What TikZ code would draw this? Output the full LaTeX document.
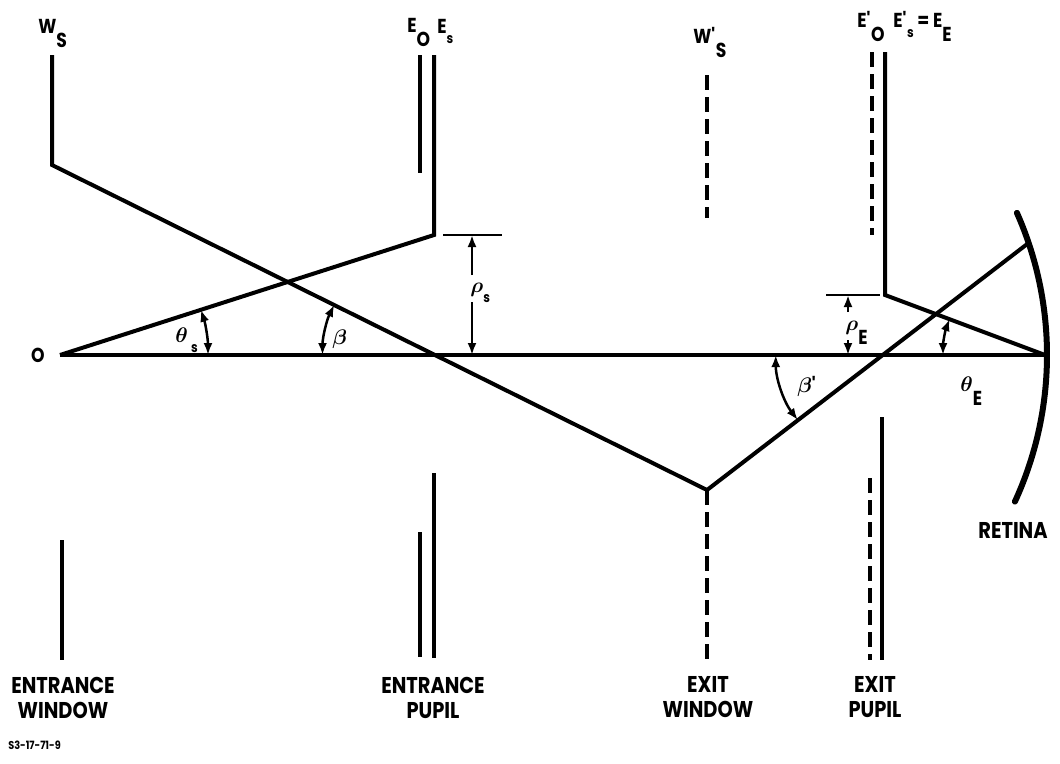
\documentclass[tikz,border=0pt]{standalone}
\usepackage{amsmath,amssymb}
\usepackage{fontspec}
\setmainfont{Poppins}[FakeStretch=0.85]
\usetikzlibrary{arrows.meta}

\newcommand{\lowsub}[2]{#1\raisebox{-0.72em}{#2}}
\newcommand{\smallsub}[2]{#1\raisebox{-0.5em}{\fontsize{8}{8}\selectfont #2}}
\newcommand{\tick}{\textquotesingle}

\tikzset{
  stop/.style={line width=0.8mm},
  virt/.style={line width=0.8mm, dash pattern=on 3mm off 1.4mm},
  dim/.style={line width=0.5mm},
  tip/.style={dim, -{Latex[length=2.4mm,width=1.8mm]}},
  both/.style={dim, {Latex[length=2.4mm,width=1.8mm]}-{Latex[length=2.4mm,width=1.8mm]}},
  sym/.style={font=\fontsize{11.5}{13}\selectfont\bfseries, inner sep=0pt},
  lbl/.style={font=\fontsize{13}{14.2}\selectfont\bfseries, align=center, inner sep=0pt},
}

\begin{document}
\begin{tikzpicture}
\useasboundingbox (-1.2,-8.16) rectangle (20,7.1);
% optical axis
\coordinate (O) at (0,0); \coordinate (R) at (19.7,0);
\draw[stop] (O) -- (R);
\node[sym] (obj) at (-0.44,0) {O};

% entrance window and entrance pupil
\draw[stop] (-0.16,6.0) -- (-0.16,3.8) -- (12.94,-2.7) coordinate (apex);
\draw[stop] (0.04,-3.7) -- (0.04,-6.1);
\draw[stop] (7.2,6.0) -- (7.2,3.64); \draw[stop] (7.2,-3.54) -- (7.2,-6.04);
\draw[stop] (7.48,6.0) -- (7.48,2.4) coordinate (ep) -- (O);
\draw[stop] (7.48,-2.36) -- (7.48,-6.06);

% exit window and exit pupil
\draw[virt] (12.94,5.6) -- (12.94,2.74); \draw[virt] (apex) -- (12.94,-6.1);
\draw[stop] (apex) -- (19.37,2.24);
\draw[virt] (16.24,6.06) -- (16.24,2.4); \draw[virt] (16.2,-2.46) -- (16.2,-6.1);
\draw[stop] (16.5,6.06) -- (16.5,1.2) coordinate (xp) -- (R);
\draw[stop] (16.44,-1.24) -- (16.44,-6.1);

% retina
\coordinate (rc) at (12.72,0);
\draw[line width=1.2mm, line cap=round] ([shift={(-24.7:7.02)}]rc) arc[start angle=-24.7,end angle=23.9,radius=7.02];

% heights
\draw[dim] (7.66,2.4) -- (8.84,2.4);
\draw[tip] (8.24,1.6) -- (8.24,2.4); \draw[tip] (8.24,1.06) -- (8.24,0);
\node[sym, anchor=base west] (rhos) at (8.2,1.26) {\smallsub{$\boldsymbol{\rho}$}{s}};
\draw[dim] (15.32,1.2) -- (16.4,1.2);
\draw[tip] (15.76,0.86) -- (15.76,1.2); \draw[tip] (15.76,0.3) -- (15.76,0);
\node[sym, anchor=base west] (rhoE) at (15.7,0.5) {\lowsub{$\boldsymbol{\rho}$}{E}};

% angles
\draw[both] (2.96,0) arc[start angle=0,end angle=17.8,radius=2.96];
\node[sym, anchor=base west] (ths) at (2.3,0.26) {\smallsub{$\boldsymbol{\theta}$\,}{s}};
\draw[both] ([shift={(153.6:2.26)}]7.51,0) arc[start angle=153.6,end angle=180,radius=2.26];
\node[sym, anchor=base west] (bet) at (5.44,0.22) {$\boldsymbol{\beta}$};
\draw[both] ([shift={(159.4:2.04)}]R) arc[start angle=159.4,end angle=180,radius=2.04];
\node[sym, anchor=base west] (thE) at (18.0,-0.72) {\lowsub{$\boldsymbol{\theta}$}{E}};
\draw[both] ([shift={(180:2.14)}]16.455,0) arc[start angle=180,end angle=217.5,radius=2.14];
\node[sym, anchor=base west] (betp) at (14.74,-0.74) {$\boldsymbol{\beta}$\tick};

% names at the top
\node[sym, anchor=base west] (ws) at (-0.44,6.44) {\lowsub{W}{S}};
\node[sym, anchor=base west] (eo) at (6.94,6.46) {\lowsub{E}{O}};
\node[sym, anchor=base west] (es) at (7.54,6.44) {\smallsub{E}{s}};
\node[sym, anchor=base west] (wps) at (12.66,6.24) {\lowsub{W\tick}{S}};
\node[sym, anchor=base west] (epo) at (15.94,6.56) {\lowsub{E\tick}{O}};
\node[sym, anchor=base west] (eps) at (16.66,6.56) {\smallsub{E\tick}{s} = \lowsub{E}{E}};

% names at the bottom
\node[lbl] (ewin) at (0.06,-6.85) {ENTRANCE\\WINDOW};
\node[lbl] (epup) at (7.46,-6.85) {ENTRANCE\\PUPIL};
\node[lbl] (xwin) at (12.96,-6.85) {EXIT\\WINDOW};
\node[lbl] (xpup) at (16.3,-6.85) {EXIT\\PUPIL};
\node[lbl] (ret) at (19.06,-3.5) {RETINA};
\node[font=\fontsize{6.5}{7}\selectfont\bfseries, anchor=west, inner sep=0pt] (fig) at (-1.04,-7.8) {S3-17-71-9};
\end{tikzpicture}
\end{document}
